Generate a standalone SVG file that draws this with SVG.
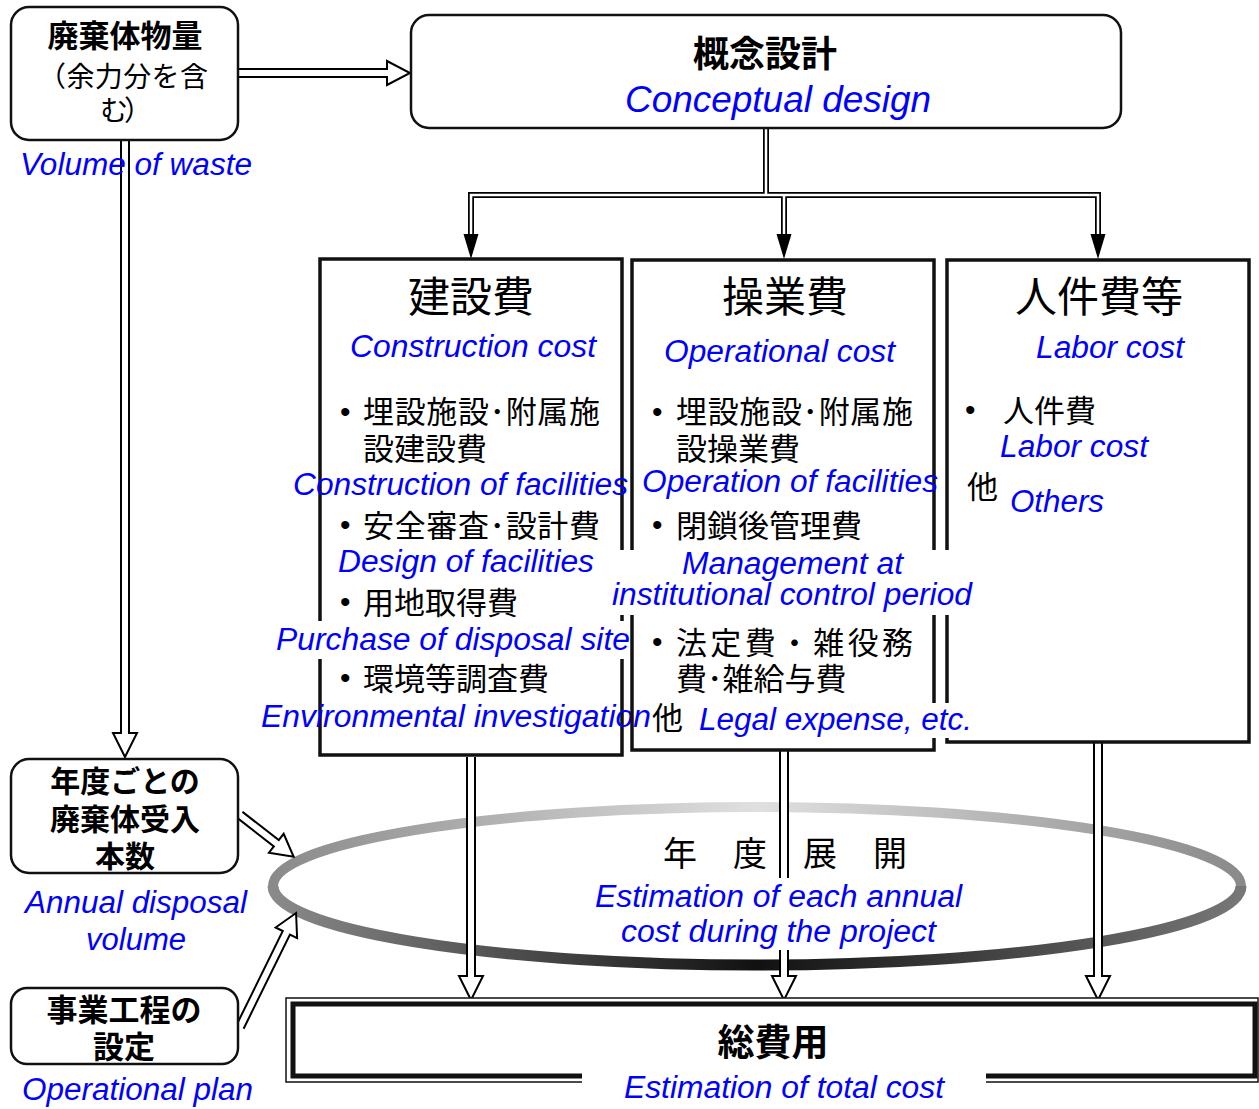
<svg xmlns="http://www.w3.org/2000/svg" width="1259" height="1109" viewBox="0 0 1259 1109">
<style>
.jp{font-family:"Noto Sans CJK JP","Noto Sans CJK SC",sans-serif;fill:#000}
.b{font-weight:bold}
.en{font-family:"Liberation Sans",Arial,sans-serif;font-style:italic;fill:#0000ff}
.bul{font-family:"Liberation Sans",Arial,sans-serif;fill:#000;font-size:30px}
.rbox{fill:#fff;stroke:#111;stroke-width:2.5}
.cbox{fill:none;stroke:#111;stroke-width:3.5}
.harrow{fill:#fff;stroke:#000;stroke-width:2;stroke-linejoin:miter}
.mask{fill:#fff}
.dl-out{fill:none;stroke:#000;stroke-width:6}
.dl-in{fill:none;stroke:#fff;stroke-width:2.5}
.head{fill:#000}
</style>
<defs>
<linearGradient id="gTop" gradientUnits="userSpaceOnUse" x1="273" y1="0" x2="1241" y2="0">
<stop offset="0" stop-color="#8a8a8a"/><stop offset="0.5" stop-color="#e0e0e0"/><stop offset="1" stop-color="#8a8a8a"/>
</linearGradient>
<linearGradient id="gBot" gradientUnits="userSpaceOnUse" x1="273" y1="0" x2="1241" y2="0">
<stop offset="0" stop-color="#8a8a8a"/><stop offset="0.5" stop-color="#111"/><stop offset="1" stop-color="#777"/>
</linearGradient>
</defs>
<rect width="1259" height="1109" fill="#fff"/>

<g id="node-annual-expansion-ring">
<path d="M273,886 A484,79 0 0 1 1241,886" fill="none" stroke="url(#gTop)" stroke-width="10"/>
<path d="M273,886 A484,79 0 0 0 1241,886" fill="none" stroke="url(#gBot)" stroke-width="11"/>
</g>

<g id="connectors">
<path class="harrow" d="M238,69 H387 V61 L410,73 L387,85 V77 H238"/>
<path class="harrow" d="M121,140 V733 H113 L125,757 L137,733 H129 V140"/>
<path class="dl-out" d="M766,128 V195 M471,236 V195 H1098 V236 M784,195 V236"/>
<path class="dl-in" d="M766,128 V195 M471,236 V195 H1098 V236 M784,195 V236"/>
<path class="head" d="M463.5,234 H478.5 L471,259 Z"/>
<path class="head" d="M776.5,234 H791.5 L784,259 Z"/>
<path class="head" d="M1090.5,234 H1105.5 L1098,259 Z"/>
<path class="harrow" d="M467,757 V976 H459 L471,1000 L483,976 H475 V757"/>
<path class="harrow" d="M780,750 V976 H772 L784,1000 L796,976 H788 V750"/>
<path class="harrow" d="M1094,742 V976 H1086 L1098,1000 L1110,976 H1102 V742"/>
<path class="harrow" transform="translate(240,815) rotate(37.9)" d="M0,-4 H46 V-12 L68,0 L46,12 V4 H0"/>
<path class="harrow" transform="translate(240,1027) rotate(-63.8)" d="M0,-4 H105 V-12 L127,0 L105,12 V4 H0"/>
</g>

<g id="node-waste-volume">
<rect class="rbox" x="11" y="7" width="227" height="133" rx="18"/>
<text class="jp b" x="125" y="47" font-size="31" text-anchor="middle">廃棄体物量</text>
<text class="jp" x="38" y="87" font-size="28" textLength="170" lengthAdjust="spacing">（余力分を含</text>
<text class="jp" x="100" y="121" font-size="28" textLength="52" lengthAdjust="spacing">む）</text>
<text class="en" x="20" y="175" font-size="31" textLength="232" lengthAdjust="spacingAndGlyphs">Volume of waste</text>
</g>

<g id="node-conceptual-design">
<rect class="rbox" x="411" y="15" width="710" height="113" rx="18"/>
<text class="jp b" x="765" y="67" font-size="36" text-anchor="middle">概念設計</text>
<text class="en" x="625" y="112" font-size="36" textLength="306" lengthAdjust="spacingAndGlyphs">Conceptual design</text>
</g>

<g id="node-annual-volume">
<rect class="rbox" x="11" y="759" width="227" height="114" rx="18"/>
<text class="jp b" x="125" y="792" font-size="30" text-anchor="middle">年度ごとの</text>
<text class="jp b" x="125" y="830" font-size="30" text-anchor="middle">廃棄体受入</text>
<text class="jp b" x="125" y="867" font-size="30" text-anchor="middle">本数</text>
<text class="en" x="25" y="913" font-size="31" textLength="222" lengthAdjust="spacingAndGlyphs">Annual disposal</text>
<text class="en" x="86" y="950" font-size="31" textLength="100" lengthAdjust="spacingAndGlyphs">volume</text>
</g>

<g id="node-operational-plan">
<rect class="rbox" x="11" y="988" width="227" height="76" rx="16"/>
<text class="jp b" x="124" y="1021" font-size="31" text-anchor="middle">事業工程の</text>
<text class="jp b" x="124" y="1058" font-size="31" text-anchor="middle">設定</text>
<text class="en" x="22" y="1100" font-size="31" textLength="231" lengthAdjust="spacingAndGlyphs">Operational plan</text>
</g>

<g id="node-construction-cost">
<rect class="cbox" x="320" y="259" width="302" height="496"/>
<text class="jp" x="408" y="312" font-size="42">建設費</text>
<text class="en" x="350" y="357" font-size="31" textLength="246" lengthAdjust="spacingAndGlyphs">Construction cost</text>
<text class="bul" x="340" y="422">•</text>
<text class="jp" x="363" y="423" font-size="31" textLength="237" lengthAdjust="spacing">埋設施設･附属施</text>
<text class="jp" x="363" y="460" font-size="31">設建設費</text>
<text class="en" x="293" y="495" font-size="31" textLength="335" lengthAdjust="spacingAndGlyphs">Construction of facilities</text>
<text class="bul" x="340" y="535">•</text>
<text class="jp" x="363" y="537" font-size="31" textLength="237" lengthAdjust="spacing">安全審査･設計費</text>
<text class="en" x="338" y="572" font-size="31" textLength="256" lengthAdjust="spacingAndGlyphs">Design of facilities</text>
<text class="bul" x="340" y="612">•</text>
<text class="jp" x="363" y="614" font-size="31">用地取得費</text>
<rect class="mask" x="275" y="621" width="355" height="38"/>
<text class="en" x="276" y="650" font-size="31" textLength="354" lengthAdjust="spacingAndGlyphs">Purchase of disposal site</text>
<text class="bul" x="340" y="688">•</text>
<text class="jp" x="363" y="690" font-size="31">環境等調査費</text>
<text class="en" x="261" y="727" font-size="31" textLength="390" lengthAdjust="spacingAndGlyphs">Environmental investigation</text>
<text class="jp" x="652" y="729" font-size="31">他</text>
</g>

<g id="node-labor-cost">
<rect class="cbox" x="947" y="260" width="302" height="482"/>
<text class="jp" x="1015" y="312" font-size="42">人件費等</text>
<text class="en" x="1036" y="358" font-size="31" textLength="148" lengthAdjust="spacingAndGlyphs">Labor cost</text>
<text class="bul" x="965" y="420">•</text>
<text class="jp" x="1003" y="422" font-size="31">人件費</text>
<text class="en" x="1000" y="457" font-size="31" textLength="148" lengthAdjust="spacingAndGlyphs">Labor cost</text>
<text class="jp" x="967" y="498" font-size="31">他</text>
<text class="en" x="1010" y="512" font-size="31" textLength="94" lengthAdjust="spacingAndGlyphs">Others</text>
</g>

<g id="node-operational-cost">
<rect class="cbox" x="632" y="260" width="302" height="490"/>
<text class="jp" x="722" y="312" font-size="42">操業費</text>
<text class="en" x="664" y="362" font-size="31" textLength="231" lengthAdjust="spacingAndGlyphs">Operational cost</text>
<text class="bul" x="652" y="422">•</text>
<text class="jp" x="676" y="423" font-size="31" textLength="237" lengthAdjust="spacing">埋設施設･附属施</text>
<text class="jp" x="676" y="460" font-size="31">設操業費</text>
<text class="en" x="642" y="492" font-size="31" textLength="296" lengthAdjust="spacingAndGlyphs">Operation of facilities</text>
<text class="bul" x="652" y="535">•</text>
<text class="jp" x="676" y="537" font-size="31">閉鎖後管理費</text>
<rect class="mask" x="607" y="550" width="368" height="65"/>
<text class="en" x="682" y="574" font-size="31" textLength="221" lengthAdjust="spacingAndGlyphs">Management at</text>
<text class="en" x="612" y="605" font-size="31" textLength="360" lengthAdjust="spacingAndGlyphs">institutional control period</text>
<text class="bul" x="652" y="652">•</text>
<text class="jp" x="676" y="654" font-size="31" textLength="237" lengthAdjust="spacing">法定費・雑役務</text>
<text class="jp" x="676" y="690" font-size="31">費･雑給与費</text>
<rect class="mask" x="696" y="703" width="280" height="35"/>
<text class="en" x="699" y="730" font-size="31" textLength="273" lengthAdjust="spacingAndGlyphs">Legal expense, etc.</text>
</g>

<g id="node-annual-expansion">
<text class="jp" x="663" y="866" font-size="34" letter-spacing="36">年度展開</text>
<rect class="mask" x="592" y="878" width="388" height="72"/>
<text class="en" x="595" y="907" font-size="31" textLength="367" lengthAdjust="spacingAndGlyphs">Estimation of each annual</text>
<text class="en" x="621" y="942" font-size="31" textLength="315" lengthAdjust="spacingAndGlyphs">cost during the project</text>
</g>

<g id="node-total-cost">
<rect x="286" y="998" width="972" height="84" fill="#fff" stroke="#111" stroke-width="1.5"/>
<rect x="293" y="1004" width="962" height="72" fill="none" stroke="#111" stroke-width="5"/>
<text class="jp b" x="773" y="1056" font-size="37" text-anchor="middle">総費用</text>
<rect class="mask" x="582" y="1072" width="404" height="37"/>
<text class="en" x="624" y="1098" font-size="31" textLength="320" lengthAdjust="spacingAndGlyphs">Estimation of total cost</text>
</g>
</svg>
